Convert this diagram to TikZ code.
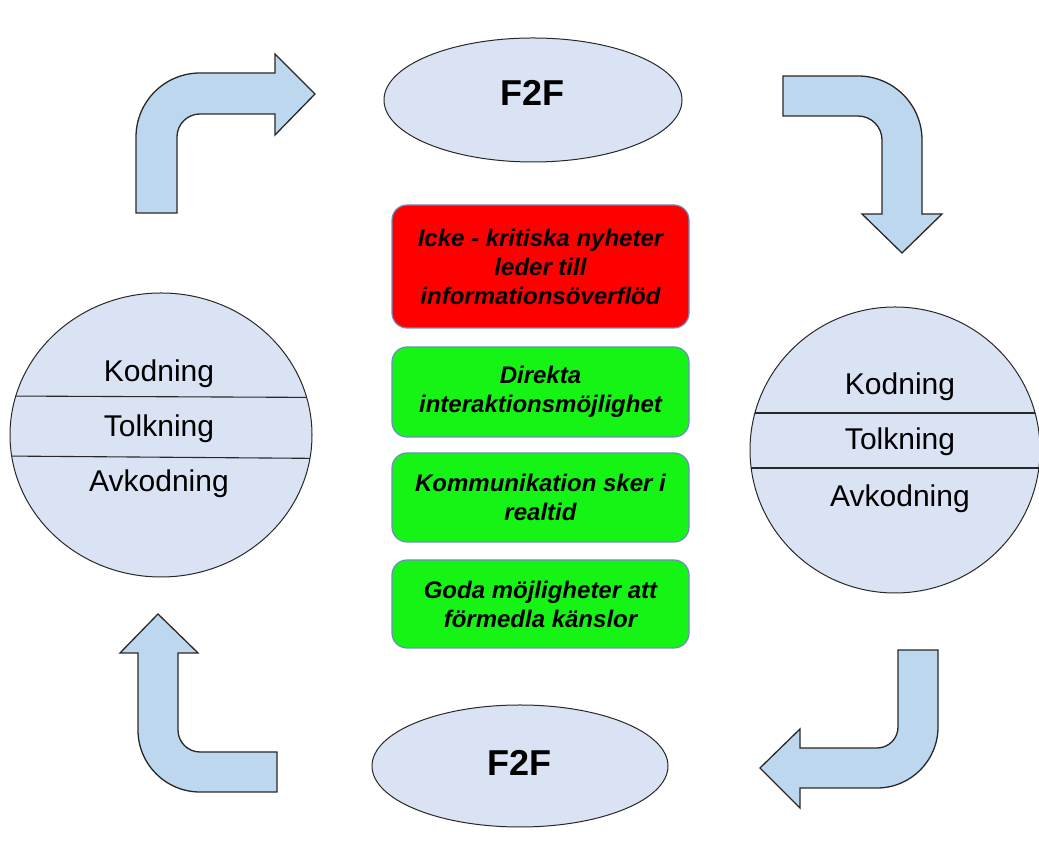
\documentclass[tikz,border=0pt]{standalone}
\usepackage{fontspec}
\setmainfont{Liberation Sans}
\usetikzlibrary{shapes.geometric}

\definecolor{shapefill}{RGB}{218,227,243}
\definecolor{arrowfill}{RGB}{189,215,238}
\definecolor{boxedge}{RGB}{108,142,191}
\definecolor{alertred}{RGB}{255,0,0}
\definecolor{goodgreen}{RGB}{22,244,22}
\definecolor{outline}{RGB}{40,40,40}

\begin{document}
\begin{tikzpicture}[x=1pt,y=1pt,
  bentarrow/.style={fill=arrowfill,draw=outline,line width=1.3pt,line join=miter},
  oval/.style={ellipse,fill=shapefill,draw=outline,line width=1pt,inner sep=0pt},
  divider/.style={draw=outline,line width=1.1pt},
  titletext/.style={font=\fontsize{36}{40}\selectfont\bfseries,anchor=base,inner sep=0pt},
  steptext/.style={font=\fontsize{30}{34}\selectfont,anchor=base,inner sep=0pt},
  notebox/.style={rectangle,rounded corners=15pt,draw=boxedge,line width=1.2pt,
    minimum width=297pt,align=center,inner sep=2pt,
    font=\fontsize{24}{29}\selectfont\bfseries\itshape}
]
\useasboundingbox (0,0) rectangle (1039,853);

% bent block arrows around the cycle
\draw[bentarrow] (136,640) -- (136,716) arc[start angle=180,end angle=90,radius=64]
  -- (275,780) -- (275,799) -- (315,759) -- (275,718) -- (275,739) -- (200,739)
  arc[start angle=90,end angle=180,radius=23] -- (177,640) -- cycle;
\draw[bentarrow] (783,777) -- (858,777) arc[start angle=90,end angle=0,radius=64]
  -- (922,639) -- (942,639) -- (902,600) -- (862,639) -- (882,639) -- (882,713)
  arc[start angle=0,end angle=90,radius=24] -- (783,737) -- cycle;
\draw[bentarrow] (938,203) -- (938,126) arc[start angle=0,end angle=-90,radius=61]
  -- (800,65) -- (800,45) -- (760,85) -- (800,124) -- (800,105) -- (877,105)
  arc[start angle=-90,end angle=0,radius=21] -- (898,203) -- cycle;
\draw[bentarrow] (277,61) -- (200,61) arc[start angle=-90,end angle=-180,radius=62]
  -- (138,200) -- (120,200) -- (158,239) -- (198,200) -- (178,200) -- (178,123)
  arc[start angle=180,end angle=270,radius=22] -- (277,101) -- cycle;

% F2F ovals
\node[oval,minimum width=298pt,minimum height=124pt] (topoval) at (533,753) {};
\node[titletext] (toplabel) at (532,747) {F2F};
\node[oval,minimum width=296pt,minimum height=122pt] (bottomoval) at (520,87) {};
\node[titletext] (bottomlabel) at (519,77) {F2F};

% left circle with three layers
\node[oval,minimum width=302pt,minimum height=284pt] (leftcircle) at (161,418) {};
\begin{scope}
  \clip (161,418) ellipse [x radius=151,y radius=142];
  \draw[divider] (0,457) -- (330,455.5);
  \draw[divider] (0,397) -- (330,394.5);
\end{scope}
\node[steptext] (lk) at (159,471) {Kodning};
\node[steptext] (lt) at (159,416) {Tolkning};
\node[steptext] (la) at (159,361) {Avkodning};

% right circle with three layers
\node[oval,minimum width=290pt,minimum height=286pt] (rightcircle) at (895,403) {};
\begin{scope}
  \clip (895,403) ellipse [x radius=145,y radius=143];
  \draw[divider] (740,440) -- (1045,440);
  \draw[divider] (740,385) -- (1045,385);
\end{scope}
\node[steptext] (rk) at (900,458) {Kodning};
\node[steptext] (rt) at (900,403) {Tolkning};
\node[steptext] (ra) at (900,346) {Avkodning};

% central notes
\node[notebox,fill=alertred,minimum height=123pt] (n1) at (540.5,586.5)
  {Icke - kritiska nyheter\\leder till\\informationsöverflöd};
\node[notebox,fill=goodgreen,minimum height=90pt] (n2) at (540.5,461)
  {Direkta\\interaktionsmöjlighet};
\node[notebox,fill=goodgreen,minimum height=89pt] (n3) at (540.5,355.5)
  {Kommunikation sker i\\realtid};
\node[notebox,fill=goodgreen,minimum height=88pt] (n4) at (540.5,249)
  {Goda möjligheter att\\förmedla känslor};
\end{tikzpicture}
\end{document}
